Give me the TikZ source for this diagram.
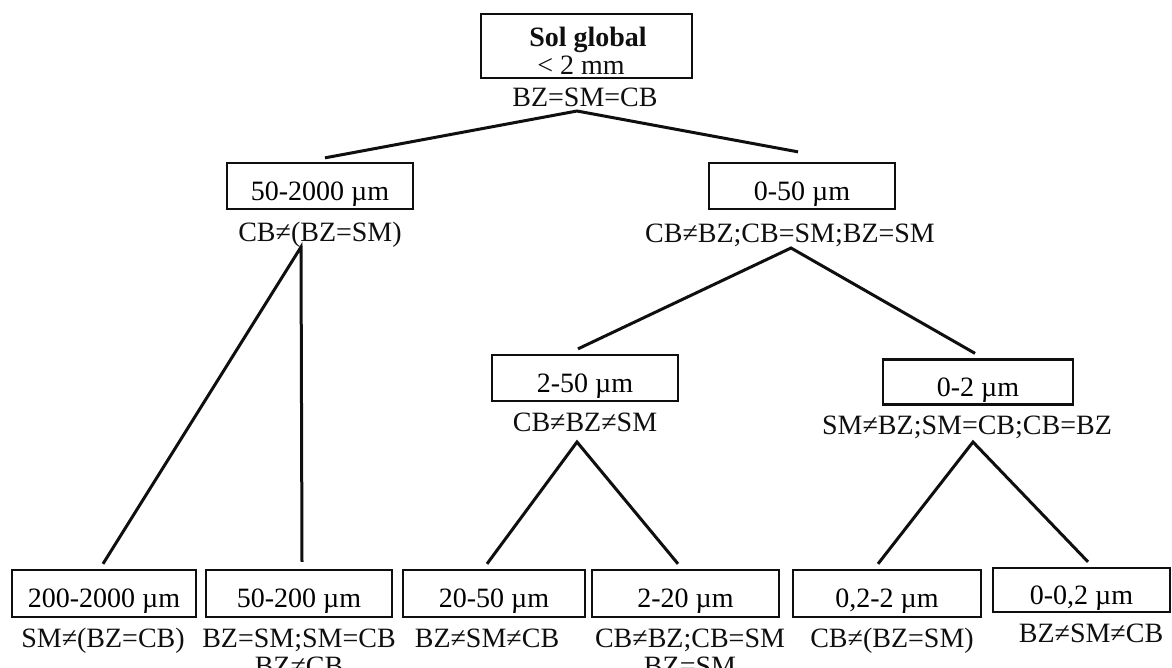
\documentclass[tikz,border=0pt]{standalone}
\usepackage{fontspec}
\setmainfont{Liberation Serif}
\usetikzlibrary{positioning}
\definecolor{tInk}{RGB}{15, 15, 15}

\begin{document}
\begin{tikzpicture}[
    x=1pt, y=-1pt,
    font=\fontsize{28}{28}\selectfont,
    box/.style={
        draw=tInk,
        line width=2.3pt,
        minimum width=#1,
        minimum height=46pt,
        text height=28pt,
        text depth=0pt,
        inner sep=0pt
    },
    note/.style={anchor=base, align=center, text=tInk, inner sep=0pt},
    link/.style={line width=3pt, color=tInk}
]
\useasboundingbox (0,0) rectangle (1172,667);

% Whole soil
\node[box=211pt, minimum height=64pt] (soil) at (586.5,46) {};
\node[note, font=\fontsize{28}{28}\selectfont\bfseries] (soilA) at (588,46) {Sol global};
\node[note] (soilB) at (581,74) {< 2 mm};
\node[note] (lSoil) at (585,106) {BZ=SM=CB};

% Level 1
\node[box=186pt] (sand) at (320,186) {50-2000 µm};
\node[note] (lSand) at (320,241.5) {CB≠(BZ=SM)};

\node[box=186pt] (fine) at (802,186) {0-50 µm};
\node[note] (lFine) at (790,242) {CB≠BZ;CB=SM;BZ=SM};

% Level 2
\node[box=186pt] (silt) at (585,378) {2-50 µm};
\node[note] (lSilt) at (585,431.5) {CB≠BZ≠SM};

\node[box=190pt, minimum height=45pt] (clay) at (978,382) {0-2 µm};
\node[note] (lClay) at (967,434) {SM≠BZ;SM=CB;CB=BZ};

% Level 3
\node[box=184pt, minimum height=47pt] (sandC) at (104,593.5) {200-2000 µm};
\node[note] (lSandC) at (103,647) {SM≠(BZ=CB)};

\node[box=186pt, minimum height=47pt] (sandF) at (299,593.5) {50-200 µm};
\node[note] (lSandF) at (299,675) {BZ=SM;SM=CB\\BZ≠CB};

\node[box=182pt, minimum height=47pt] (siltC) at (494,593.5) {20-50 µm};
\node[note] (lSiltC) at (487,647) {BZ≠SM≠CB};

\node[box=187pt, minimum height=47pt] (siltF) at (685.5,593.5) {2-20 µm};
\node[note] (lSiltF) at (690,675) {CB≠BZ;CB=SM\\BZ=SM};

\node[box=188pt, minimum height=47pt] (clayC) at (887,593.5) {0,2-2 µm};
\node[note] (lClayC) at (892,647) {CB≠(BZ=SM)};

\node[box=177pt, minimum height=44pt] (clayF) at (1081.5,590) {0-0,2 µm};
\node[note] (lClayF) at (1091,642) {BZ≠SM≠CB};

% forks
\coordinate (fSoil) at (577,111);
\coordinate (fSand) at (301,247);
\coordinate (fFine) at (791,248);
\coordinate (fSilt) at (577,442);
\coordinate (fClay) at (973,442);

\draw[link] ([shift={(5,-4)}]sand.north) -- (fSoil) -- ([shift={(-4,-10)}]fine.north);
\draw[link] ([shift={(-1,-5)}]sandC.north) -- (fSand) -- ([shift={(3,-7)}]sandF.north);
\draw[link] ([shift={(-7,-5)}]silt.north) -- (fFine) -- ([shift={(-3,-5)}]clay.north);
\draw[link] ([shift={(-7,-5)}]siltC.north) -- (fSilt) -- ([shift={(-7.5,-5)}]siltF.north);
\draw[link] ([shift={(-9,-5)}]clayC.north) -- (fClay) -- ([shift={(6.5,-5)}]clayF.north);

\end{tikzpicture}
\end{document}
